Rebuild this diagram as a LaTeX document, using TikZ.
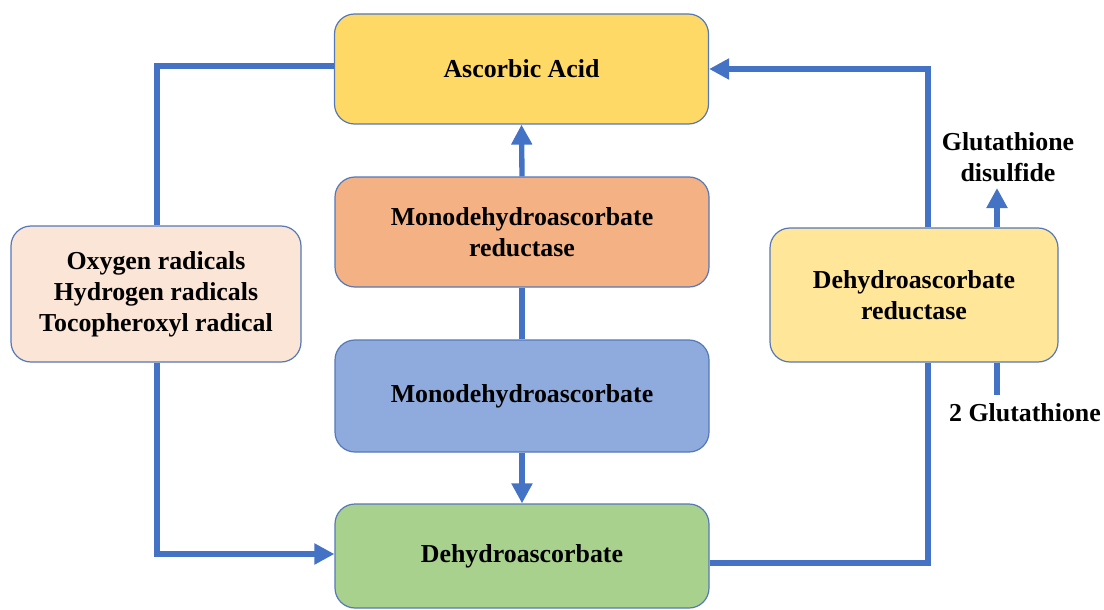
\documentclass[tikz,border=0pt]{standalone}
\usepackage{fontspec}
\setmainfont{LiberationSerif}[Extension=.ttf, UprightFont=*-Regular, BoldFont=*-Bold, ItalicFont=*-Italic, BoldItalicFont=*-BoldItalic]
\usetikzlibrary{arrows.meta}
\definecolor{conncol}{HTML}{4472C4}
\definecolor{bordercol}{HTML}{5478B8}
\definecolor{ascfill}{HTML}{FFD966}
\definecolor{mdharfill}{HTML}{F4B183}
\definecolor{mdhafill}{HTML}{8FAADC}
\definecolor{dhafill}{HTML}{A9D18E}
\definecolor{radfill}{HTML}{FBE5D6}
\definecolor{dharfill}{HTML}{FFE699}
\begin{document}
\begin{tikzpicture}[x=0.75pt,y=-0.75pt,
  box/.style={draw=bordercol, line width=0.9pt, rounded corners=15pt, align=center,
    font=\fontsize{19.4pt}{23.25pt}\selectfont\bfseries, inner sep=0pt},
  lbl/.style={align=center, font=\fontsize{19.4pt}{23.25pt}\selectfont\bfseries, inner sep=0pt},
  conn/.style={draw=conncol, line width=4pt},
  arr/.style={conn, -{Triangle[length=15pt,width=15pt]}}
]
\useasboundingbox (0,0) rectangle (1104,610);
\node[box, fill=ascfill, minimum width=280.5pt, minimum height=82.5pt] (asc) at (521.5,69) {Ascorbic Acid};
\node[box, fill=mdharfill, minimum width=280.5pt, minimum height=82.5pt] (mdhar) at (522,232) {Monodehydroascorbate\\reductase};
\node[box, fill=mdhafill, minimum width=280.5pt, minimum height=84pt] (mdha) at (522,396) {Monodehydroascorbate};
\node[box, fill=dhafill, minimum width=280.5pt, minimum height=78pt] (dha) at (522,556) {Dehydroascorbate};
\node[box, fill=radfill, minimum width=217.5pt, minimum height=102pt] (rad) at (156,294) {Oxygen radicals\\Hydrogen radicals\\Tocopheroxyl radical};
\node[box, fill=dharfill, minimum width=216pt, minimum height=100.5pt] (dhar) at (914,295) {Dehydroascorbate\\reductase};
\node[lbl] (gsd) at (1008,157) {Glutathione\\disulfide};
\node[lbl] (gsh) at (1025,413) {2 Glutathione};

\coordinate (lx) at (157,0);
\coordinate (rx) at (928,0);
\coordinate (gx) at (997,0);
\coordinate (gtop) at (997,188);
\coordinate (gbot) at (997,395);

\draw[conn] ([yshift=2.25pt]asc.west) -| (rad.north -| lx);
\draw[arr] (rad.south -| lx) |- ([yshift=1.5pt]dha.west);
\draw[arr] (mdhar.north) -- (asc.south);
\draw[conn] (mdha.north) -- (mdhar.south);
\draw[arr] (mdha.south) -- (dha.north);
\draw[conn] ([yshift=-5.25pt]dha.east) -| (dhar.south -| rx);
\draw[arr] (dhar.north -| rx) |- (asc.east);
\draw[arr] (dhar.north -| gx) -- (gtop);
\draw[conn] (dhar.south -| gx) -- (gbot);
\end{tikzpicture}
\end{document}
